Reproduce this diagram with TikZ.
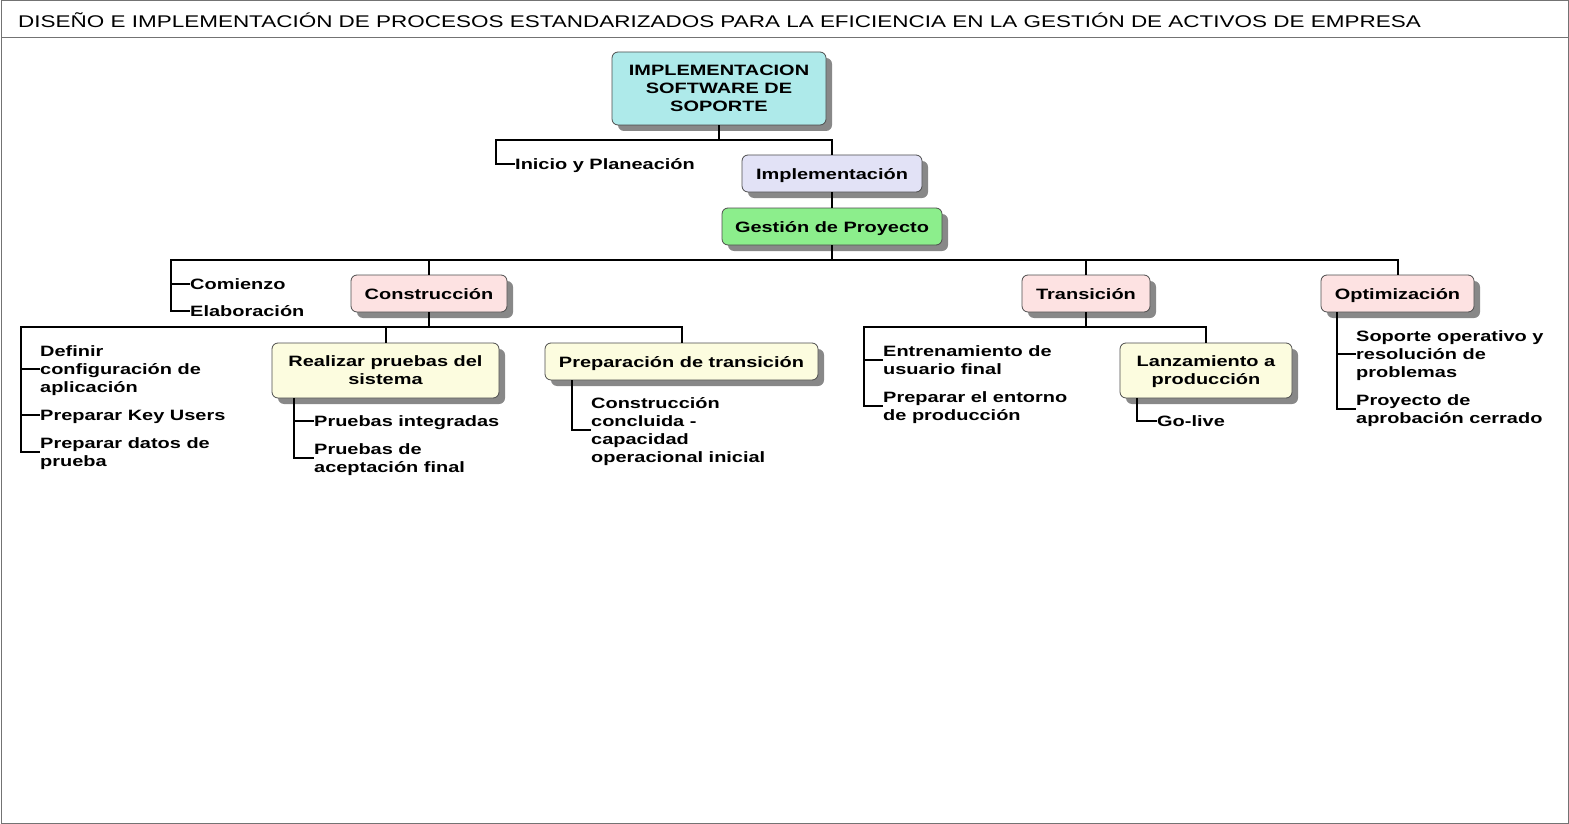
\documentclass[tikz,border=0pt]{standalone}
\usepackage{fontspec}
\setmainfont{Liberation Sans}[FakeStretch=1.33]
\usetikzlibrary{shadows}
\definecolor{cRoot}{HTML}{AEEAEA}
\definecolor{cImpl}{HTML}{E2E2F6}
\definecolor{cGp}{HTML}{8CEE8C}
\definecolor{cPink}{HTML}{FDE2E2}
\definecolor{cYel}{HTML}{FCFCDF}
\begin{document}
\begin{tikzpicture}[x=1pt,y=-1pt,
  box/.style={draw=black!70, line width=0.8pt, rounded corners=6pt,
    font=\bfseries\fontsize{15}{18}\selectfont, align=center, inner sep=0pt, text depth=0pt,
    drop shadow={shadow xshift=6pt, shadow yshift=-6pt, fill=black!55, opacity=0.85}},
  leaf/.style={anchor=west, inner sep=0pt, align=left, text depth=0pt, font=\bfseries\fontsize{15}{18}\selectfont},
  conn/.style={line width=2pt, black}]
\useasboundingbox (0,0) rectangle (1569,824);
\draw[black!55, line width=1pt] (1,1) rectangle (1568,823);
\draw[black!55, line width=1pt] (1,38) -- (1568,38);
\node[anchor=west, inner sep=0pt, text depth=0pt, font=\fontsize{16.9}{18}\selectfont] (title) at (18,20) {DISEÑO E IMPLEMENTACIÓN DE PROCESOS ESTANDARIZADOS PARA LA EFICIENCIA EN LA GESTIÓN DE ACTIVOS DE EMPRESA};

% boxes
\node[box, fill=cRoot, minimum width=214pt, minimum height=73pt] (root) at (719,88.5) {IMPLEMENTACION\\SOFTWARE DE\\SOPORTE};
\node[box, fill=cImpl, minimum width=180pt, minimum height=37pt] (impl) at (832,173.5) {Implementación};
\node[box, fill=cGp, minimum width=220pt, minimum height=37pt] (gp) at (832,226.5) {Gestión de Proyecto};
\node[box, fill=cPink, minimum width=156pt, minimum height=37pt] (constr) at (429,293.5) {Construcción};
\node[box, fill=cPink, minimum width=128pt, minimum height=37pt] (trans) at (1086,293.5) {Transición};
\node[box, fill=cPink, minimum width=153pt, minimum height=37pt] (opt) at (1397.5,293.5) {Optimización};
\node[box, fill=cYel, minimum width=227pt, minimum height=55pt] (rps) at (385.5,370.5) {Realizar pruebas del\\sistema};
\node[box, fill=cYel, minimum width=273pt, minimum height=37pt] (prep) at (681.5,361.5) {Preparación de transición};
\node[box, fill=cYel, minimum width=172pt, minimum height=55pt] (lanz) at (1206,370.5) {Lanzamiento a\\producción};

% leaves
\node[leaf] (ini) at (515,164) {Inicio y Planeación};
\node[leaf] (com) at (190,284) {Comienzo};
\node[leaf] (elab) at (190,311) {Elaboración};
\node[leaf] (def) at (40,369) {Definir\\configuración de\\aplicación};
\node[leaf] (key) at (40,415) {Preparar Key Users};
\node[leaf] (dat) at (40,452) {Preparar datos de\\prueba};
\node[leaf] (pi) at (314,421) {Pruebas integradas};
\node[leaf] (pa) at (314,458) {Pruebas de\\aceptación final};
\node[leaf] (cc) at (591,430) {Construcción\\concluida -\\capacidad\\operacional inicial};
\node[leaf] (en) at (883,360) {Entrenamiento de\\usuario final};
\node[leaf] (pe) at (883,406) {Preparar el entorno\\de producción};
\node[leaf] (gl) at (1157,421) {Go-live};
\node[leaf] (so) at (1356,354) {Soporte operativo y\\resolución de\\problemas};
\node[leaf] (pr) at (1356,409) {Proyecto de\\aprobación cerrado};

% connectors
\draw[conn] (root.south) -- ++(0,15) coordinate (j1);
\draw[conn] (j1) -| ([xshift=-19pt]ini.west) -- (ini.west);
\draw[conn] (j1) -| (impl.north);
\draw[conn] (impl.south) -- (gp.north);
\draw[conn] (gp.south) -- ++(0,15) coordinate (j2);
\draw[conn] (j2) -| ([xshift=-19pt]elab.west) -- (elab.west);
\draw[conn] ([xshift=-19pt]com.west) -- (com.west);
\draw[conn] (j2) -| (constr.north);
\draw[conn] (j2) -| (trans.north);
\draw[conn] (j2) -| (opt.north);

\draw[conn] (constr.south) -- ++(0,15) coordinate (j3);
\draw[conn] (j3) -| ([xshift=-19pt]dat.west) -- (dat.west);
\draw[conn] ([xshift=-19pt]def.west) -- (def.west);
\draw[conn] ([xshift=-19pt]key.west) -- (key.west);
\draw[conn] (j3) -| (rps.north);
\draw[conn] (j3) -| (prep.north);

\coordinate (spA) at ([xshift=-20pt]pi.west);
\draw[conn] (spA |- rps.south) |- (pa.west);
\draw[conn] (spA) -- (pi.west);
\coordinate (spB) at ([xshift=-19pt]cc.west);
\draw[conn] (spB |- prep.south) |- (cc.west);

\draw[conn] (trans.south) -- ++(0,15) coordinate (j4);
\draw[conn] (j4) -| ([xshift=-19pt]pe.west) -- (pe.west);
\draw[conn] ([xshift=-19pt]en.west) -- (en.west);
\draw[conn] (j4) -| (lanz.north);
\coordinate (spC) at ([xshift=-20pt]gl.west);
\draw[conn] (spC |- lanz.south) |- (gl.west);

\coordinate (spD) at ([xshift=-19pt]pr.west);
\draw[conn] (spD |- opt.south) |- (pr.west);
\draw[conn] (spD |- so.west) -- (so.west);
\end{tikzpicture}
\end{document}
